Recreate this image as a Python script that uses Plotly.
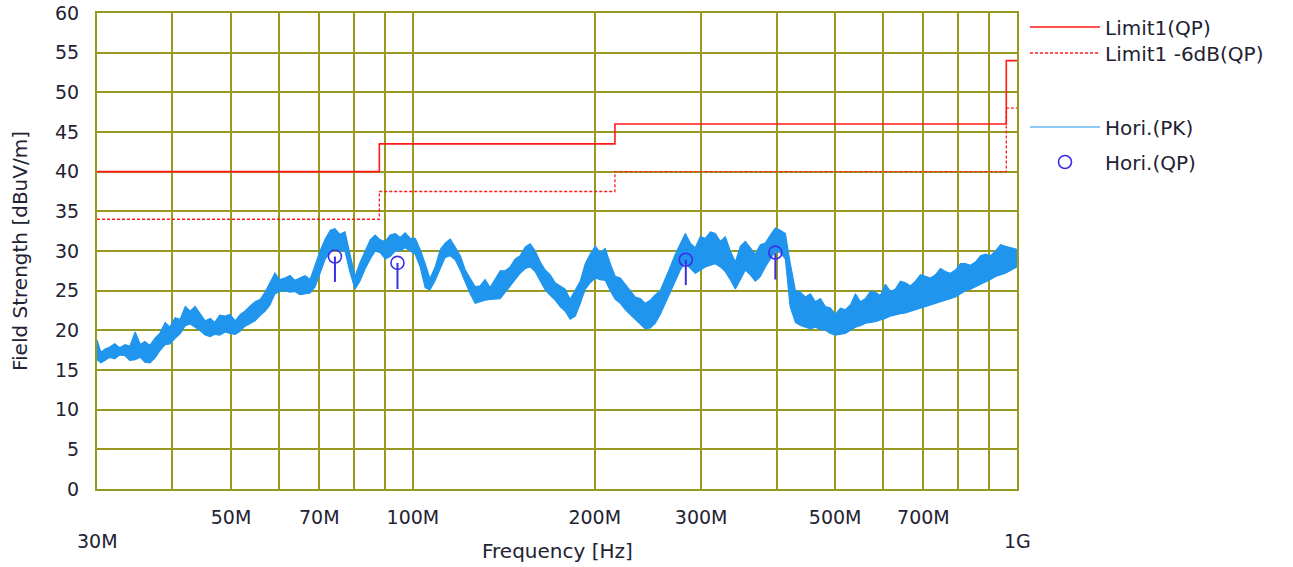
import plotly.graph_objects as go

# ---------------- data ----------------
pk_freq_mhz = [
    30.0, 30.45, 30.9, 31.5, 32.1, 32.7, 33.4, 34.0, 34.7, 35.4,
    36.0, 36.7, 37.4, 38.1, 38.9, 39.6, 40.4, 41.2, 42.0, 42.8,
    43.6, 44.4, 45.3, 46.2, 47.0, 47.9, 48.9, 49.8, 50.8, 51.8,
    52.7, 53.7, 54.8, 55.9, 56.9, 58.0, 59.1, 60.2, 61.4, 62.6,
    63.8, 65.0, 66.3, 67.6, 68.9, 70.2, 71.6, 73.0, 74.3, 75.7,
    77.2, 78.7, 80.2, 81.7, 83.4, 85.0, 86.6, 88.3, 90.0, 91.7,
    93.5, 95.3, 97.1, 99.0, 100.9, 102.8, 104.8, 106.7, 108.9, 111.0,
    113.1, 115.3, 117.5, 119.8, 122.1, 124.4, 126.8, 129.2, 131.7, 134.2,
    136.9, 139.5, 142.2, 144.9, 147.7, 150.5, 153.5, 156.4, 159.4, 162.5,
    165.6, 168.8, 172.0, 175.3, 178.7, 182.1, 185.7, 189.3, 192.9, 196.6,
    200.4, 204.3, 208.2, 212.2, 216.3, 220.5, 224.7, 229.0, 233.4, 237.9,
    242.5, 247.2, 251.9, 256.7, 261.7, 266.7, 271.9, 277.1, 282.5, 287.9,
    293.4, 299.0, 304.9, 310.8, 316.7, 322.8, 329.0, 335.3, 341.8, 348.4,
    355.1, 361.9, 368.9, 376.0, 383.2, 390.6, 398.1, 405.7, 413.6, 421.2,
    429.7, 438.0, 446.4, 455.0, 463.7, 472.6, 481.8, 491.1, 500.5, 510.1,
    520.0, 530.0, 540.2, 550.6, 561.2, 572.0, 583.0, 594.2, 605.6, 617.2,
    629.2, 641.3, 653.6, 666.2, 679.1, 692.1, 705.5, 719.1, 732.9, 747.0,
    761.4, 776.0, 791.0, 806.2, 821.7, 837.5, 853.7, 870.1, 886.9, 903.9,
    921.3, 939.0, 957.1, 978.3, 1000.0]
pk_low = [
    16.3, 15.9, 16.2, 16.6, 16.4, 16.9, 16.8, 16.2, 16.3, 16.6,
    16.0, 15.9, 16.5, 17.4, 18.2, 18.3, 19.0, 19.6, 20.6, 20.8,
    20.4, 20.0, 19.4, 19.2, 19.5, 19.4, 19.8, 19.6, 19.5, 19.9,
    20.5, 20.8, 21.2, 21.9, 22.4, 23.2, 24.6, 24.9, 25.0, 24.8,
    24.9, 24.5, 24.6, 24.7, 25.5, 27.2, 29.0, 29.8, 30.3, 30.0,
    30.0, 27.3, 25.2, 26.2, 27.8, 29.0, 30.0, 29.8, 29.0, 29.3,
    30.0, 30.0, 30.4, 30.0, 29.6, 28.0, 25.4, 25.1, 26.3, 27.8,
    29.2, 29.4, 28.9, 27.6, 26.0, 24.6, 23.4, 23.6, 23.8, 23.9,
    24.0, 24.0, 24.8, 25.6, 26.4, 27.2, 27.8, 28.0, 27.4, 26.3,
    25.1, 24.4, 23.8, 23.0, 22.4, 21.4, 21.8, 23.4, 25.2, 26.0,
    26.6, 26.4, 26.3, 25.0, 23.9, 23.4, 22.6, 22.0, 21.4, 20.8,
    20.2, 20.3, 20.9, 22.0, 23.4, 24.8, 26.4, 27.6, 28.6, 27.8,
    27.2, 27.6, 28.0, 28.2, 28.4, 28.0, 27.4, 26.4, 25.2, 26.4,
    27.6, 27.0, 26.2, 26.8, 28.0, 29.0, 30.0, 29.8, 29.0, 23.0,
    21.0, 20.6, 20.4, 20.2, 20.4, 20.1, 20.0, 19.6, 19.4, 19.5,
    19.6, 20.0, 20.4, 20.6, 20.9, 21.0, 21.1, 21.3, 21.5, 21.8,
    22.0, 22.1, 22.2, 22.4, 22.6, 22.8, 23.0, 23.2, 23.4, 23.6,
    23.8, 24.0, 24.2, 24.6, 25.0, 25.2, 25.5, 25.8, 26.0, 26.4,
    26.8, 27.0, 27.2, 27.6, 28.0]
pk_high = [
    18.8, 17.2, 17.6, 17.9, 18.3, 17.8, 18.2, 18.0, 19.8, 18.2,
    18.6, 18.1, 19.0, 19.6, 21.0, 20.4, 21.6, 21.4, 23.0, 22.4,
    23.0, 22.1, 21.2, 21.5, 21.0, 21.9, 21.8, 22.0, 21.2, 22.0,
    22.4, 23.0, 23.6, 23.9, 24.8, 26.0, 27.2, 26.4, 26.6, 26.9,
    26.3, 26.6, 26.9, 26.4, 28.2, 30.0, 31.5, 32.6, 32.8, 32.1,
    32.4, 29.6, 26.8, 28.5, 30.0, 31.4, 32.0, 31.4, 31.2, 32.0,
    32.2, 31.7, 32.3, 31.6, 31.6, 30.2, 28.4, 26.5, 28.0, 30.2,
    31.0, 31.5, 30.5, 29.4, 27.6, 26.6, 25.5, 25.6, 26.4, 25.4,
    26.5, 27.5, 27.5, 28.0, 29.0, 29.4, 30.5, 30.9, 30.0, 28.6,
    27.6, 27.0, 26.0, 25.6, 25.2, 23.9, 25.0, 26.2, 28.4, 29.6,
    30.6, 29.8, 30.3, 28.4, 26.8, 26.6, 25.8, 25.0, 24.2, 24.0,
    23.4, 23.8, 24.5, 25.0, 26.4, 28.0, 29.6, 31.0, 32.2, 31.0,
    30.4, 31.8, 31.6, 32.4, 32.2, 31.2, 31.8, 30.0, 28.6, 30.6,
    31.2, 30.4, 29.6, 30.8, 31.0, 32.0, 32.9, 32.6, 32.2, 28.5,
    25.0, 24.8, 24.2, 24.6, 23.6, 24.0, 23.0, 22.8, 22.0, 22.8,
    22.6, 23.2, 24.6, 23.6, 24.0, 24.9, 24.8, 24.4, 25.8, 24.9,
    25.2, 26.2, 26.0, 25.6, 26.2, 27.0, 26.8, 26.6, 27.0, 27.8,
    27.4, 27.2, 27.6, 28.4, 28.4, 28.2, 28.6, 29.4, 29.6, 29.4,
    30.0, 30.8, 30.6, 30.4, 30.2]

limit_freq_mhz = [30, 88, 216, 960, 1000]
limit_qp = [40, 43.5, 46, 54, 54]
limit_qp_6db = [34, 37.5, 40, 48, 48]

qp_freq_mhz = [74.3, 94.3, 283.0, 398.1]
qp_level = [29.3, 28.5, 28.9, 29.8]
qp_stem = [3.2, 3.3, 3.2, 3.4]

grid_freq_mhz = [30, 40, 50, 60, 70, 80, 90, 100, 200, 300, 400, 500, 600, 700, 800, 900, 1000]
labelled_freq = {50: "50M", 70: "70M", 100: "100M", 200: "200M",
                 300: "300M", 500: "500M", 700: "700M"}
end_labels = [(0.0, "30M"), (1.0, "1G")]
y_ticks = list(range(0, 61, 5))

# ---------------- style ----------------
FONT = "DejaVu Sans, Verdana, sans-serif"
TXT = "#222233"
GRID = "#999922"
RED = "#ff1a1a"
BLUE = "#1f95ee"
QPC = "#3a2fe6"
M = 1e6

fig = go.Figure()

fig.add_trace(go.Scatter(
    x=[f * M for f in limit_freq_mhz], y=limit_qp, mode="lines",
    line=dict(color=RED, width=1.6, shape="hv"), name="Limit1(QP)", legend="legend"))
fig.add_trace(go.Scatter(
    x=[f * M for f in limit_freq_mhz], y=limit_qp_6db, mode="lines",
    line=dict(color=RED, width=1.3, shape="hv", dash="3px,2px"),
    name="Limit1 -6dB(QP)", legend="legend2"))

fig.add_trace(go.Scatter(
    x=[f * M for f in pk_freq_mhz], y=pk_low, mode="lines",
    line=dict(color=BLUE, width=1.2), name="Hori.(PK)", legend="legend3"))
fig.add_trace(go.Scatter(
    x=[f * M for f in pk_freq_mhz], y=pk_high, mode="lines",
    line=dict(color=BLUE, width=1.2), fill="tonexty", fillcolor=BLUE,
    showlegend=False, legend="legend3"))

fig.add_trace(go.Scatter(
    x=[f * M for f in qp_freq_mhz], y=qp_level, mode="markers",
    marker=dict(symbol="circle-open", size=13, color=QPC, line=dict(width=1.6, color=QPC)),
    error_y=dict(type="data", symmetric=False, array=[0] * len(qp_level),
                 arrayminus=qp_stem, color=QPC, thickness=2, width=0),
    name="Hori.(QP)", legend="legend4"))

fig.update_xaxes(
    type="log", range=[7.47712125, 9.0],
    tickvals=[f * M for f in grid_freq_mhz],
    ticktext=[labelled_freq.get(f, "") for f in grid_freq_mhz],
    showgrid=True, gridcolor=GRID, gridwidth=2,
    showline=True, linecolor=GRID, linewidth=2, mirror=True,
    ticks="", ticklabelstandoff=10, zeroline=False,
    tickfont=dict(family=FONT, size=19, color=TXT),
)
fig.update_yaxes(
    range=[0, 60], tickvals=y_ticks,
    showgrid=True, gridcolor=GRID, gridwidth=2,
    showline=True, linecolor=GRID, linewidth=2, mirror=True,
    ticks="", ticklabelstandoff=12, zeroline=False,
    tickfont=dict(family=FONT, size=19, color=TXT),
    title=dict(text="Field Strength [dBuV/m]", standoff=22,
               font=dict(family=FONT, size=20, color=TXT)),
)

annotations = []
for xp, t in end_labels:
    annotations.append(dict(x=xp, xref="paper", y=-0.109, yref="paper",
                            text=t, showarrow=False, xanchor="center", yanchor="middle",
                            font=dict(family=FONT, size=19, color=TXT)))
annotations.append(dict(x=0.5, xref="paper", y=-0.130, yref="paper", text="Frequency [Hz]",
                        showarrow=False, xanchor="center", yanchor="middle",
                        font=dict(family=FONT, size=20, color=TXT)))


def leg(ypos):
    return dict(x=1.0087, y=ypos, xanchor="left", yanchor="middle", itemwidth=70,
                bgcolor="rgba(0,0,0,0)", font=dict(family=FONT, size=20, color=TXT),
                traceorder="normal")


fig.update_layout(
    width=1293, height=567,
    margin=dict(l=97, r=276, t=13, b=78, autoexpand=False),
    paper_bgcolor="white", plot_bgcolor="white",
    font=dict(family=FONT, size=19, color=TXT),
    annotations=annotations,
    legend=leg(0.9706),
    legend2=leg(0.9160),
    legend3=leg(0.7605),
    legend4=leg(0.6870),
    showlegend=True,
)

fig.write_html("out.html")
